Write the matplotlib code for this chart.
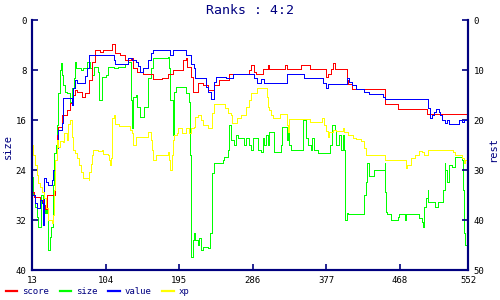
import matplotlib
matplotlib.use("Agg")
import matplotlib.pyplot as plt
from matplotlib.lines import Line2D

# turn numbers and rank values
score_x = [13, 15, 23, 27, 29, 32, 39, 42, 44, 45, 50, 56, 60, 64, 66, 69, 75, 79, 83, 87, 91,
           97, 101, 110, 112, 116, 122, 128, 135, 138, 143, 150, 162, 163, 174, 181, 187, 199,
           200, 203, 205, 209, 212, 218, 225, 231, 238, 244, 256, 263, 281, 284, 287, 290, 298,
           305, 306, 325, 326, 328, 343, 345, 356, 357, 371, 376, 377, 379, 383, 385, 388, 399,
           402, 404, 408, 449, 450, 465, 501, 552]
score = [34.4, 35.4, 36, 37, 37.8, 35, 35, 28, 23, 21.4, 19, 18, 16.6, 15, 14, 14.4, 15.4, 14.6,
         12, 8.4, 6, 6.4, 6, 6, 4.8, 6.6, 7, 8, 7.6, 9.6, 10.4, 10.8, 11, 11.8, 11.6, 10.8, 10,
         10, 8, 7.6, 9.4, 11.4, 14.4, 12.6, 13, 14, 13, 12, 10.8, 10.8, 10, 9, 10.4, 10.8, 9.8,
         9, 9.8, 9.8, 9, 9.8, 9.8, 9, 9, 9.8, 9.8, 10.4, 11.4, 10.8, 9.8, 8.6, 9.8, 9.8, 12,
         12.8, 13.8, 13.8, 16.8, 17.8, 18.8, 18.8]

value_x = [13, 17, 19, 21, 23, 25, 27, 28, 30, 33, 38, 39, 42, 44, 45, 50, 51, 60, 63, 64, 66,
           69, 76, 79, 81, 83, 112, 114, 116, 128, 132, 137, 141, 144, 147, 150, 156, 157, 160,
           163, 182, 184, 187, 200, 203, 209, 213, 215, 225, 228, 231, 234, 238, 240, 249, 253,
           261, 284, 287, 291, 296, 300, 327, 328, 348, 349, 372, 373, 377, 379, 399, 402, 405,
           408, 414, 424, 430, 447, 449, 502, 503, 505, 507, 510, 512, 516, 517, 520, 523, 526,
           528, 538, 541, 544, 547, 552]
value = [35, 36.6, 37.6, 37.6, 36, 36.6, 41, 31.6, 32.4, 33, 32, 30, 28, 25.6, 22, 20.6, 15.6,
         15.6, 17, 13.6, 12, 12.6, 12.6, 11.2, 9.6, 7, 7, 8, 8.8, 8.8, 7.6, 8, 8.4, 9.2, 10.4,
         9.6, 9.6, 8, 6.6, 6, 6, 7, 6, 6, 7, 8.8, 9.6, 11.6, 11.6, 13.4, 14.4, 15.8, 12.4, 11.4,
         11.4, 11.6, 10.8, 10.8, 11.6, 12.6, 11.8, 12.6, 12.6, 10.8, 10.8, 11.6, 11.6, 12.6,
         13.6, 12.8, 12.8, 11.6, 12.4, 13, 13.8, 14.4, 14.8, 15.4, 15.8, 15.8, 17.6, 19.6, 19,
         18.4, 17.8, 18.4, 19, 20, 20.6, 20, 20.8, 20.8, 20, 20.4, 20, 20]

size_x = [13, 14, 17, 19, 20, 23, 24, 27, 29, 30, 32, 33, 35, 37, 39, 40, 43, 44, 45, 48, 49, 50,
          51, 54, 56, 60, 63, 65, 66, 68, 73, 76, 81, 85, 87, 90, 94, 96, 99, 104, 107, 114, 119,
          128, 132, 135, 137, 138, 141, 143, 147, 151, 156, 157, 160, 163, 181, 182, 184, 187,
          188, 191, 200, 203, 207, 208, 209, 210, 212, 213, 215, 218, 219, 222, 225, 230, 233,
          235, 236, 238, 249, 250, 255, 256, 259, 263, 265, 268, 271, 275, 277, 280, 281, 284,
          286, 292, 296, 298, 300, 302, 305, 306, 311, 312, 318, 321, 322, 327, 328, 330, 331,
          333, 346, 348, 352, 354, 358, 359, 362, 367, 379, 382, 384, 387, 389, 392, 395, 398,
          399, 400, 402, 404, 423, 424, 426, 427, 429, 436, 449, 450, 451, 452, 457, 465, 467,
          474, 475, 491, 492, 495, 496, 497, 500, 502, 503, 511, 515, 520, 521, 523, 524, 526,
          528, 532, 536, 542, 544, 546, 547, 548, 551, 552]
size = [25.1, 28, 29.9, 31.5, 33.1, 33.1, 28, 30.4, 30.9, 28.8, 30.9, 36.8, 34.7, 33.1, 26.4,
        21.3, 20, 16.8, 11.7, 8, 6.9, 8.8, 10.4, 11.5, 11.7, 13.1, 10.9, 9.3, 6.7, 7.7, 8, 7.7,
        6.7, 7.7, 8.8, 7.5, 8.3, 12.8, 9.1, 8.8, 7.5, 7.7, 7.5, 7, 6.7, 12.8, 17.3, 12.3, 12,
        13.9, 15.5, 13.9, 12, 9.3, 7.7, 6.1, 5.9, 7.7, 12.8, 18.4, 11.5, 10.7, 10.7, 11.7, 13.1,
        21.6, 34.9, 37.9, 35.2, 34, 35.2, 36, 34.9, 36.8, 36.3, 36.5, 34.1, 27.5, 24.5, 22.9,
        22.4, 21.9, 20.8, 16.8, 19.2, 20, 18.4, 18.9, 18.9, 20, 18.9, 18.9, 20, 20.8, 18.9, 20.8,
        21.1, 18.9, 20, 18.4, 20, 17.9, 17.9, 21.1, 21.1, 20, 17.1, 17.1, 19.2, 17.9, 20, 20.8,
        20.8, 16, 18.9, 20, 20.8, 18.9, 20.8, 21.3, 21.3, 20, 16.8, 17.6, 20, 18.4, 20.8, 18.4,
        20.8, 32, 30.9, 31, 31, 28, 25.9, 22.9, 25, 24, 22.9, 27.5, 30.7, 31, 32, 31.5, 31, 32,
        31, 31, 31.7, 32.3, 33.1, 29.9, 28.5, 27.2, 29.1, 29.9, 29.1, 29.1, 27.2, 22.9, 24,
        25.9, 23.2, 23.5, 21.9, 21.9, 22.4, 27.2, 34.1, 36, 35.2, 35.2]

xp_x = [13, 14, 17, 19, 20, 23, 25, 28, 30, 33, 38, 39, 40, 42, 44, 45, 48, 51, 52, 56, 57, 60,
        63, 64, 66, 69, 71, 73, 76, 83, 84, 86, 87, 89, 94, 100, 101, 107, 108, 110, 111, 112,
        114, 116, 120, 131, 134, 137, 138, 141, 153, 157, 160, 161, 163, 166, 178, 181, 182,
        184, 186, 187, 189, 192, 194, 199, 203, 207, 209, 213, 214, 218, 222, 225, 230, 234,
        235, 236, 238, 249, 252, 255, 259, 260, 266, 267, 271, 275, 277, 278, 281, 284, 290,
        291, 302, 303, 305, 306, 308, 311, 318, 319, 327, 328, 330, 331, 356, 357, 371, 372,
        374, 377, 379, 380, 385, 389, 398, 399, 404, 410, 414, 420, 424, 426, 447, 449, 474,
        475, 476, 479, 481, 482, 486, 491, 492, 495, 498, 501, 502, 503, 532, 533, 536, 544,
        545, 547, 548, 552]
xp = [25, 27, 29, 31, 32.6, 33.4, 34.4, 35.6, 37.6, 40, 40.6, 39, 34, 28, 24, 25.4, 24.2, 24.4,
      22.6, 24, 20.8, 20, 23.4, 26, 26.6, 27.6, 29, 30.4, 31.6, 32, 30.4, 28.8, 27, 26, 26.2,
      26, 26.8, 27, 28, 29, 27.6, 19.6, 19, 20.8, 21.2, 21.2, 22, 22.6, 25, 23.4, 23.4, 22.4,
      24, 26, 28, 27, 27, 26.4, 28, 30, 27, 24, 23, 22.6, 21.6, 22.6, 21.6, 22.6, 21.6, 21.4,
      19.4, 19, 20, 21, 21.6, 21.6, 20.6, 18.6, 16.8, 16.8, 17.6, 18.6, 19, 20.6, 20.6, 19.6,
      19, 19, 18.4, 17.4, 16, 14.6, 14.6, 13.6, 13.6, 15.4, 17.4, 18, 19, 19.6, 19.6, 18.8,
      18.8, 21, 22.4, 19.8, 19.8, 20.4, 20.4, 19.6, 21, 22.2, 23.4, 22.4, 22, 22.2, 21.6, 22.4,
      23, 23.6, 23.8, 24.2, 25.6, 27, 27, 28, 28, 29.6, 29, 29, 28.4, 27.6, 27, 27, 26.2, 26.4,
      27, 27, 26.2, 26, 26, 26.4, 27, 27, 27.6, 28.6, 28, 28]

x_ticks = [13, 104, 195, 286, 377, 468, 552]
left_ticks = [0, 8, 16, 24, 32, 40]
right_ticks = [0, 10, 20, 30, 40, 50]

navy = "#000080"
mono = "DejaVu Sans Mono"

fig = plt.figure(figsize=(5, 3), dpi=100)
ax = fig.add_axes([0.064, 0.1, 0.872, 0.833])
ax2 = ax.twinx()

# size on the left axis, the other ranks on the right one
style = dict(lw=0.5, drawstyle="steps-post", antialiased=False)
ln_size, = ax.plot(size_x, size, color="#00ff00", **style)
ln_score, = ax2.plot(score_x, score, color="#ff0000", **style)
ln_value, = ax2.plot(value_x, value, color="#0000ff", **style)
ln_xp, = ax2.plot(xp_x, xp, color="#ffff00", **style)

ax.set_xlim(13, 552)
ax.set_ylim(40, 0)
ax2.set_ylim(50, 0)
ax.set_xticks(x_ticks)
ax.set_yticks(left_ticks)
ax2.set_yticks(right_ticks)

for a in (ax, ax2):
    a.spines["top"].set_visible(False)
    for s in ("left", "right", "bottom"):
        a.spines[s].set_color(navy)
        a.spines[s].set_linewidth(1.5)
    a.tick_params(direction="in", length=4, width=1.2, color=navy,
                  labelsize=6.5, labelcolor="black", pad=4)
    for lab in a.get_xticklabels() + a.get_yticklabels():
        lab.set_family(mono)

fig.text(0.5, 0.965, "Ranks : 4:2", ha="center", va="center", color=navy,
         family=mono, fontsize=9.5)
fig.text(0.016, 0.513, "size", rotation=90, ha="center", va="center", color=navy,
         family=mono, fontsize=7.5)
fig.text(0.986, 0.5, "rest", rotation=90, ha="center", va="center", color=navy,
         family=mono, fontsize=7.5)

labels = ["score", "size", "value", "xp"]
handles = [Line2D([], [], color=h.get_color(), lw=1.6)
           for h in (ln_score, ln_size, ln_value, ln_xp)]
leg = fig.legend(handles, labels, loc="lower left", bbox_to_anchor=(-0.005, -0.015), ncol=4,
                 frameon=False, handlelength=1.3, handletextpad=0.5, columnspacing=1.2,
                 prop={"family": mono, "size": 6.5})
for t in leg.get_texts():
    t.set_color(navy)

fig.savefig("out.png", dpi=100)
